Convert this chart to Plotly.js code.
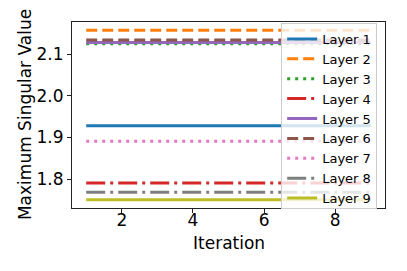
<!DOCTYPE html>
<html>
<head>
<meta charset="utf-8">
<script src="https://cdn.plot.ly/plotly-3.0.1.min.js"></script>
<style>
  html, body { margin: 0; padding: 0; background: #fff; }
  #chart { width: 407px; height: 271px; }
</style>
</head>
<body>
<div id="chart"></div>
<script>
// Max singular value per layer across iterations (flat: values do not change).
var ITERATIONS = [1, 2, 3, 4, 5, 6, 7, 8, 9];
var LAYER_NAMES = ["Layer 1", "Layer 2", "Layer 3", "Layer 4", "Layer 5",
                   "Layer 6", "Layer 7", "Layer 8", "Layer 9"];
var LAYER_1 = [1.928, 1.928, 1.928, 1.928, 1.928, 1.928, 1.928, 1.928, 1.928];
var LAYER_2 = [2.157, 2.157, 2.157, 2.157, 2.157, 2.157, 2.157, 2.157, 2.157];
var LAYER_3 = [2.125, 2.125, 2.125, 2.125, 2.125, 2.125, 2.125, 2.125, 2.125];
var LAYER_4 = [1.791, 1.791, 1.791, 1.791, 1.791, 1.791, 1.791, 1.791, 1.791];
var LAYER_5 = [2.128, 2.128, 2.128, 2.128, 2.128, 2.128, 2.128, 2.128, 2.128];
var LAYER_6 = [2.134, 2.134, 2.134, 2.134, 2.134, 2.134, 2.134, 2.134, 2.134];
var LAYER_7 = [1.891, 1.891, 1.891, 1.891, 1.891, 1.891, 1.891, 1.891, 1.891];
var LAYER_8 = [1.769, 1.769, 1.769, 1.769, 1.769, 1.769, 1.769, 1.769, 1.769];
var LAYER_9 = [1.751, 1.751, 1.751, 1.751, 1.751, 1.751, 1.751, 1.751, 1.751];

(function () {
  "use strict";

  var SERIES = [LAYER_1, LAYER_2, LAYER_3, LAYER_4, LAYER_5,
                LAYER_6, LAYER_7, LAYER_8, LAYER_9];
  // matplotlib tab10 and the solid/dashed/dotted/dashdot cycle at lw=3
  var COLORS = ["#1f77b4", "#ff7f0e", "#2ca02c", "#d62728", "#9467bd",
                "#8c564b", "#e377c2", "#7f7f7f", "#bcbd22"];
  var DASHES = ["solid", "11px,5px", "3px,5px", "19px,5px,3px,5px"];
  var FONT = "DejaVu Sans, sans-serif";

  var traces = SERIES.map(function (ys, i) {
    return {
      type: "scatter",
      mode: "lines",
      name: LAYER_NAMES[i],
      x: ITERATIONS,
      y: ys,
      line: { color: COLORS[i], width: 3, dash: DASHES[i % DASHES.length] }
    };
  });

  var axisBase = {
    showline: true, mirror: true, linecolor: "#222", linewidth: 1,
    showgrid: false, zeroline: false,
    ticks: "outside", ticklen: 4, tickcolor: "#222",
    tickfont: { family: FONT, size: 17, color: "#000" }
  };

  function axisTitle(text, x, y, angle) {
    return {
      xref: "paper", x: x, xanchor: "center",
      yref: "paper", y: y, yanchor: "middle",
      text: text, textangle: angle, showarrow: false,
      font: { family: FONT, size: 17 }
    };
  }

  var layout = {
    width: 407, height: 271,
    margin: { l: 72, r: 22, t: 22, b: 63 },
    paper_bgcolor: "#fff", plot_bgcolor: "#fff",
    font: { family: FONT, color: "#000" },
    showlegend: true,
    legend: {
      x: 0.975, xanchor: "right", y: 0.995, yanchor: "top",
      bgcolor: "rgba(255,255,255,0.8)", bordercolor: "#ccc", borderwidth: 1,
      font: { family: FONT, size: 13 }, tracegroupgap: 0
    },
    xaxis: Object.assign({}, axisBase, {
      range: [0.6, 9.4], tickvals: [2, 4, 6, 8], ticklabelstandoff: -7
    }),
    yaxis: Object.assign({}, axisBase, {
      range: [1.731, 2.177], tickvals: [1.8, 1.9, 2.0, 2.1], tickformat: ".1f"
    }),
    // axis titles as annotations so they sit where matplotlib put them
    annotations: [
      axisTitle("Iteration", 0.5, -0.19, 0),
      axisTitle("Maximum Singular Value", -0.15, 0.5, -90)
    ]
  };

  Plotly.newPlot("chart", traces, layout, { displayModeBar: false, staticPlot: true });
})();
</script>
</body>
</html>
